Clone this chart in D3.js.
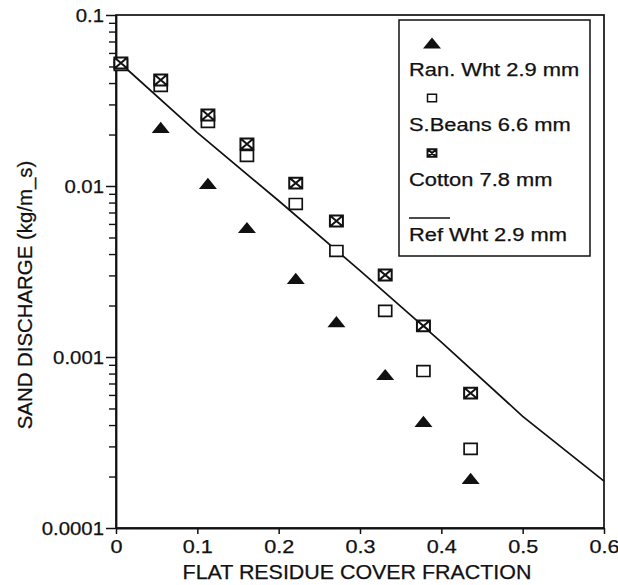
<!DOCTYPE html>
<html>
<head>
<meta charset="utf-8">
<script src="https://cdn.jsdelivr.net/npm/d3@7/dist/d3.min.js"></script>
<style>
body { margin: 0; background: #fff; }
text { font-family: "Liberation Sans", Arial, sans-serif; fill: #111; stroke: #111; stroke-width: 0.25px; }
</style>
</head>
<body>
<div id="grafico"></div>
<script>
const width = 618
const height = 585

// data
const xTicks = [0, 0.1, 0.2, 0.3, 0.4, 0.5, 0.6]
const xTickLabels = ["0", "0.1", "0.2", "0.3", "0.4", "0.5", "0.6"]
const yTicks = [0.1, 0.01, 0.001, 0.0001]
const yTickLabels = ["0.1", "0.01", "0.001", "0.0001"]

const coverX = [0.006, 0.055, 0.113, 0.161, 0.221, 0.271, 0.331, 0.378, 0.436]
const ranWhtX = [0.055, 0.113, 0.161, 0.221, 0.271, 0.331, 0.378, 0.436]
const ranWht = [0.0220, 0.01035, 0.00572, 0.00288, 0.00161, 0.00079, 0.00042, 0.000195]
const sBeans = [0.0510, 0.0385, 0.0237, 0.0150, 0.00785, 0.00417, 0.00186, 0.000828, 0.00029]
const cotton = [0.0524, 0.0417, 0.0260, 0.0176, 0.0104, 0.00624, 0.00302, 0.00152, 0.000615]
const refX = [0.005, 0.1, 0.2, 0.3, 0.4, 0.5, 0.6]
const refWht = [0.0524, 0.0205, 0.0082, 0.0032, 0.00122, 0.00045, 0.000188]

const legendLabels = ["Ran. Wht 2.9 mm", "S.Beans 6.6 mm", "Cotton 7.8 mm", "Ref Wht 2.9 mm"]

const mLeft = 116, mRight = 604, mTop = 15, mBottom = 528

const svg = d3.select("#grafico")
	.append("svg")
	.attr("width", width)
	.attr("height", height)

const x = d3.scaleLinear().domain([0, 0.6]).range([mLeft, mRight])
const y = d3.scaleLog().domain([0.0001, 0.1]).range([mBottom, mTop])

// the scan is a bit wider than it is tall, stretch the text the same way
function stretch(sel, k) {
	sel.each(function () {
		const w = this.getComputedTextLength()
		d3.select(this).attr("textLength", w * k).attr("lengthAdjust", "spacingAndGlyphs")
	})
}

// marker shapes
const flatTriangle = {
	draw(ctx, size) {
		const s = Math.sqrt(size)
		ctx.moveTo(0, -s * 0.31)
		ctx.lineTo(s * 0.5, s * 0.31)
		ctx.lineTo(-s * 0.5, s * 0.31)
		ctx.closePath()
	}
}
const box = {
	draw(ctx, size) {
		const s = Math.sqrt(size)
		const w = s * 0.5, h = s * 0.42
		ctx.moveTo(-w, -h)
		ctx.lineTo(w, -h)
		ctx.lineTo(w, h)
		ctx.lineTo(-w, h)
		ctx.closePath()
	}
}
const crossedBox = {
	draw(ctx, size) {
		const s = Math.sqrt(size)
		const w = s * 0.5, h = s * 0.42
		ctx.moveTo(-w, -h)
		ctx.lineTo(w, -h)
		ctx.lineTo(w, h)
		ctx.lineTo(-w, h)
		ctx.closePath()
		ctx.moveTo(-w, -h)
		ctx.lineTo(w, h)
		ctx.moveTo(w, -h)
		ctx.lineTo(-w, h)
	}
}

// frame (top and right)
svg.append("rect")
	.attr("x", mLeft)
	.attr("y", mTop)
	.attr("width", mRight - mLeft)
	.attr("height", mBottom - mTop)
	.attr("fill", "none")
	.attr("stroke", "#111")
	.attr("stroke-width", 1.7)

// y axis, majors + minors
const minors = []
yTicks.slice(1).forEach(d => {
	for (let i = 2; i <= 9; i++) minors.push(d * i)
})

const yAxis = svg.append("g")
	.attr("transform", `translate(${mLeft},0)`)
	.call(d3.axisLeft(y).tickValues(yTicks).tickSize(10).tickSizeOuter(0).tickPadding(2)
		.tickFormat((d, i) => yTickLabels[i]))
svg.append("g")
	.attr("transform", `translate(${mLeft},0)`)
	.call(d3.axisLeft(y).tickValues(minors).tickSize(7).tickSizeOuter(0).tickFormat(""))
	.call(g => g.select(".domain").remove())
	.selectAll("line").attr("stroke", "#111").attr("stroke-width", 1.4)

yAxis.select(".domain").attr("stroke", "#111").attr("stroke-width", 1.8)
yAxis.selectAll("line").attr("stroke", "#111").attr("stroke-width", 1.5)
yAxis.selectAll("text").attr("font-size", 18).attr("fill", "#111").attr("font-family", "Liberation Sans, Arial, sans-serif")
	.attr("dy", "0.36em")
stretch(yAxis.selectAll("text"), 1.13)

const xAxis = svg.append("g")
	.attr("transform", `translate(0,${mBottom})`)
	.call(d3.axisBottom(x).tickValues(xTicks).tickSize(6).tickSizeOuter(0).tickPadding(6)
		.tickFormat((d, i) => xTickLabels[i]))
xAxis.select(".domain").attr("stroke", "#111").attr("stroke-width", 1.8)
xAxis.selectAll("line").attr("stroke", "#111").attr("stroke-width", 1.5)
xAxis.selectAll("text").attr("font-size", 18).attr("fill", "#111").attr("font-family", "Liberation Sans, Arial, sans-serif")
stretch(xAxis.selectAll("text"), 1.2)

// titles
const xTitle = svg.append("text")
	.attr("x", (mLeft + mRight) / 2 - 3)
	.attr("y", 579)
	.attr("text-anchor", "middle")
	.attr("font-size", 20)
	.text("FLAT RESIDUE COVER FRACTION")
stretch(xTitle, 1.07)

const yTitle = svg.append("text")
	.attr("transform", "translate(32,295) rotate(-90)")
	.attr("text-anchor", "middle")
	.attr("font-size", 20)
	.text("SAND DISCHARGE (kg/m_s)")
stretch(yTitle, 1.02)

// reference line
const line = d3.line()
	.x((d, i) => x(refX[i]))
	.y(d => y(d))

svg.append("path")
	.datum(refWht)
	.attr("d", line)
	.attr("fill", "none")
	.attr("stroke", "#111")
	.attr("stroke-width", 1.7)

// markers
svg.append("g").selectAll("path")
	.data(sBeans)
	.join("path")
	.attr("transform", (d, i) => `translate(${x(coverX[i])},${y(d)})`)
	.attr("d", d3.symbol().type(box).size(13 * 13))
	.attr("fill", "#fff")
	.attr("stroke", "#111")
	.attr("stroke-width", 1.7)

svg.append("g").selectAll("path")
	.data(cotton)
	.join("path")
	.attr("transform", (d, i) => `translate(${x(coverX[i])},${y(d)})`)
	.attr("d", d3.symbol().type(crossedBox).size(13 * 13))
	.attr("fill", "#fff")
	.attr("stroke", "#111")
	.attr("stroke-width", 2)

svg.append("g").selectAll("path")
	.data(ranWht)
	.join("path")
	.attr("transform", (d, i) => `translate(${x(ranWhtX[i])},${y(d)})`)
	.attr("d", d3.symbol().type(flatTriangle).size(18 * 18))
	.attr("fill", "#111")

// legend
const legend = svg.append("g")
legend.append("rect")
	.attr("x", 399)
	.attr("y", 20)
	.attr("width", 191)
	.attr("height", 236)
	.attr("fill", "#fff")
	.attr("stroke", "#111")
	.attr("stroke-width", 1.5)

const legendTypes = [flatTriangle, box, crossedBox, null]
const legendSizes = [18 * 18, 9 * 9, 9 * 9, 0]

legendLabels.forEach((lab, i) => {
	const ym = 43 + i * 55
	if (legendTypes[i]) {
		legend.append("path")
			.attr("transform", `translate(432,${ym})`)
			.attr("d", d3.symbol().type(legendTypes[i]).size(legendSizes[i]))
			.attr("fill", i == 0 ? "#111" : "#fff")
			.attr("stroke", i == 0 ? "none" : "#111")
			.attr("stroke-width", i == 2 ? 1.9 : 1.5)
	} else {
		legend.append("line")
			.attr("x1", 409).attr("x2", 450)
			.attr("y1", ym + 10).attr("y2", ym + 10)
			.attr("stroke", "#111")
			.attr("stroke-width", 1.5)
	}
	const t = legend.append("text")
		.attr("x", 409)
		.attr("y", 76 + i * 55)
		.attr("font-size", 17.5)
		.text(lab)
	stretch(t, 1.25)
})
</script>
</body>
</html>
